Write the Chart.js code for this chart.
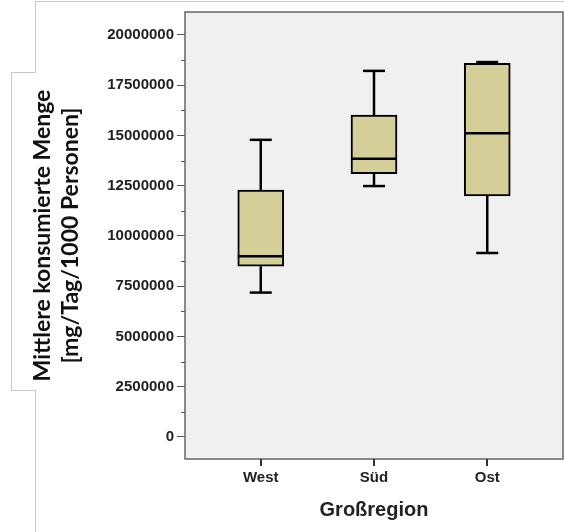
<!DOCTYPE html>
<html lang="de">
<head>
<meta charset="UTF-8">
<title>Großregion Boxplot</title>
<style>
  html, body { margin: 0; padding: 0; background: #fff; }
  #wrap { position: relative; width: 564px; height: 532px; }
  .fl { position: absolute; background: #c8c8c8; }
</style>
</head>
<body>
<div id="wrap">
  <canvas id="chart" width="564" height="532"></canvas>
  <!-- frame around the y title, as in the source image -->
  <div class="fl" style="left:35px;top:1px;width:529px;height:1px"></div>
  <div class="fl" style="left:35px;top:1px;width:1px;height:72px"></div>
  <div class="fl" style="left:11px;top:72px;width:25px;height:1px"></div>
  <div class="fl" style="left:11px;top:72px;width:1px;height:318px"></div>
  <div class="fl" style="left:11px;top:390px;width:25px;height:1px"></div>
  <div class="fl" style="left:35px;top:390px;width:1px;height:142px"></div>
</div>

<script src="https://cdn.jsdelivr.net/npm/chart.js"></script>
<script>
  const regions = ['West', 'Süd', 'Ost'];
  const minVals = [7180000, 12480000, 9150000];
  const q1Vals = [8490000, 13100000, 11990000];
  const medianVals = [8990000, 13840000, 15110000];
  const q3Vals = [12280000, 16010000, 18580000];
  const maxVals = [14780000, 18210000, 18650000];
  const yTickLabels = [0, 2500000, 5000000, 7500000, 10000000, 12500000, 15000000, 17500000, 20000000];
  const yMinorTicks = [1250000, 3750000, 6250000, 8750000, 11250000, 13750000, 16250000, 18750000];

  const boxFill = '#d4cf98';
  const boxWidth = 46;
  const capWidth = 22;

  // plot background + frame + small tick marks
  const plotFrame = {
    id: 'plotFrame',
    beforeDraw(chart) {
      const { ctx, chartArea: a } = chart;
      ctx.save();
      ctx.fillStyle = '#f0f0f0';
      ctx.fillRect(a.left, a.top, a.right - a.left, a.bottom - a.top);
      ctx.restore();
    },
    afterDraw(chart) {
      const { ctx, chartArea: a, scales } = chart;
      ctx.save();
      ctx.strokeStyle = '#666';
      ctx.lineWidth = 1.5;
      ctx.strokeRect(a.left, a.top, a.right - a.left, a.bottom - a.top);
      ctx.strokeStyle = '#555';
      ctx.lineWidth = 1;
      yMinorTicks.forEach(v => {
        const y = Math.round(scales.y.getPixelForValue(v)) + 0.5;
        ctx.beginPath();
        ctx.moveTo(a.left - 4, y);
        ctx.lineTo(a.left, y);
        ctx.stroke();
      });
      ctx.strokeStyle = '#333';
      ctx.lineWidth = 2;
      regions.forEach((r, i) => {
        const x = Math.round(scales.x.getPixelForValue(i));
        ctx.beginPath();
        ctx.moveTo(x, a.bottom);
        ctx.lineTo(x, a.bottom + 7);
        ctx.stroke();
      });
      ctx.restore();
    }
  };

  // whiskers, caps and medians
  const boxParts = {
    id: 'boxParts',
    afterDatasetsDraw(chart) {
      const { ctx, scales: { x, y } } = chart;
      ctx.save();
      ctx.strokeStyle = '#000';
      ctx.lineWidth = 2.5;
      const line = (x1, y1, x2, y2) => {
        ctx.beginPath();
        ctx.moveTo(x1, y1);
        ctx.lineTo(x2, y2);
        ctx.stroke();
      };
      regions.forEach((r, i) => {
        const cx = x.getPixelForValue(i);
        const yMax = y.getPixelForValue(maxVals[i]);
        const yMin = y.getPixelForValue(minVals[i]);
        line(cx, yMax, cx, y.getPixelForValue(q3Vals[i]));
        line(cx, y.getPixelForValue(q1Vals[i]), cx, yMin);
        line(cx - capWidth / 2, yMax, cx + capWidth / 2, yMax);
        line(cx - capWidth / 2, yMin, cx + capWidth / 2, yMin);
        const yMed = y.getPixelForValue(medianVals[i]);
        line(cx - boxWidth / 2, yMed, cx + boxWidth / 2, yMed);
      });
      ctx.restore();
    }
  };

  new Chart(document.getElementById('chart'), {
    type: 'bar',
    data: {
      datasets: [{
        data: regions.map((r, i) => ({ x: i, y: [q1Vals[i], q3Vals[i]] })),
        backgroundColor: boxFill,
        borderColor: '#000',
        borderWidth: 2,
        borderSkipped: false,
        barThickness: boxWidth
      }]
    },
    options: {
      responsive: false,
      animation: false,
      layout: { padding: { top: 9, right: 1, left: 0, bottom: 0 } },
      plugins: { legend: { display: false }, tooltip: { enabled: false } },
      scales: {
        x: {
          type: 'linear',
          min: -0.669,
          max: 2.669,
          offset: false,
          border: { display: false },
          grid: { display: true, offset: false, drawOnChartArea: false, tickLength: 7, tickColor: 'rgba(0,0,0,0)' },
          afterBuildTicks(s) { s.ticks = regions.map((r, i) => ({ value: i })); },
          ticks: {
            autoSkip: false,
            maxRotation: 0,
            padding: 3,
            color: '#222',
            font: { family: 'Liberation Sans', size: 15, weight: 'bold' },
            callback: v => regions[v] ?? ''
          },
          title: {
            display: true,
            text: 'Großregion',
            color: '#222',
            font: { family: 'Liberation Sans', size: 20, weight: 'bold' },
            padding: { top: 0, bottom: 10 }
          },
          afterFit(s) { s.height = 73; }
        },
        y: {
          min: -1100000,
          max: 21140000,
          border: { display: false },
          grid: { display: true, drawOnChartArea: false, tickLength: 8, tickWidth: 1, tickColor: '#555' },
          afterBuildTicks(s) { s.ticks = yTickLabels.map(v => ({ value: v })); },
          ticks: {
            autoSkip: false,
            padding: 3,
            color: '#222',
            font: { family: 'Liberation Sans', size: 15, weight: 'bold' },
            callback: v => String(v)
          },
          title: {
            display: true,
            text: ['Mittlere konsumierte Menge', '[mg/Tag/1000 Personen]'],
            color: '#111',
            font: { family: 'Lato', size: 23, weight: 'bold' },
            padding: { top: 29, bottom: 0 }
          },
          afterFit(s) { s.width = 185; }
        }
      }
    },
    plugins: [plotFrame, boxParts]
  });
</script>
</body>
</html>
